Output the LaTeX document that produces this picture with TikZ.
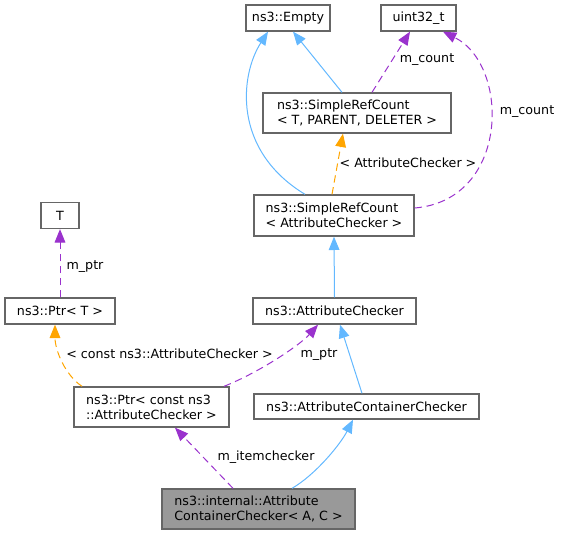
\documentclass[tikz,border=0pt]{standalone}
\usepackage{fontspec}
\setmainfont{DejaVu Sans}
\usetikzlibrary{arrows.meta,calc}
\definecolor{edgeblue}{RGB}{99,184,255}
\definecolor{edgepurple}{RGB}{154,50,205}
\definecolor{edgeorange}{RGB}{255,165,0}
\definecolor{boxgray}{RGB}{102,102,102}
\definecolor{hlgray}{RGB}{153,153,153}
\tikzset{every picture/.style={line width=0.75pt}}
\tikzset{
  cls/.style={draw=boxgray, line width=1pt, fill=white, inner sep=0pt, minimum height=19.5pt, align=left, font=\fontsize{9.5}{11.25}\selectfont},
  hlcls/.style={cls, fill=hlgray},
  lbl/.style={inner sep=0.75pt, font=\fontsize{9.5}{11.25}\selectfont},
  inh/.style={draw=edgeblue, -{Triangle[length=10pt,width=8pt]}},
  mem/.style={draw=edgepurple, dash pattern=on 5.5pt off 3.5pt, -{Triangle[length=10pt,width=8pt]}},
  tpl/.style={draw=edgeorange, dash pattern=on 5.5pt off 3.5pt, -{Triangle[length=10pt,width=8pt]}},
}

\begin{document}
\begin{tikzpicture}[x=0.75pt,y=0.75pt,yscale=-1,xscale=1]
\useasboundingbox (0,0) rectangle (563,535);

%Shape: Rectangle [id:empty]
\node [cls, minimum width=63pt] (empty) at (288,18) {ns3::Empty};
%Shape: Rectangle [id:uint]
\node [cls, minimum width=56.25pt] (uint) at (418.5,18) {uint32\_t};
%Shape: Rectangle [id:srcT]
\node [cls, minimum width=141pt, minimum height=30pt] (srcT) at (357,113) {ns3::SimpleRefCount\\< T, PARENT, DELETER >};
%Shape: Rectangle [id:srcAC]
\node [cls, minimum width=120pt, minimum height=30.75pt] (srcAC) at (334,215.5) {ns3::SimpleRefCount\\< AttributeChecker >};
%Shape: Rectangle [id:T]
\node [cls, minimum width=28.5pt] (T) at (60,215.5) {T};
%Shape: Rectangle [id:ptrT]
\node [cls, minimum width=82.5pt] (ptrT) at (60,311) {ns3::Ptr< T >};
%Shape: Rectangle [id:ptrAC]
\node [cls, minimum width=116.25pt, minimum height=30pt] (ptrAC) at (151.5,407) {ns3::Ptr< const ns3\\::AttributeChecker >};
%Shape: Rectangle [id:ac]
\node [cls, minimum width=122.25pt] (ac) at (334.5,311) {ns3::AttributeChecker};
%Shape: Rectangle [id:acc]
\node [cls, minimum width=168.75pt, minimum height=18.75pt] (acc) at (366.5,406.5) {ns3::AttributeContainerChecker};
%Shape: Rectangle [id:internal]
\node [hlcls, minimum width=144.75pt, minimum height=30pt] (internal) at (258.5,509) {ns3::internal::Attribute\\ContainerChecker< A, C >};

%Straight Lines and Curves
\draw [inh] ($(srcAC.north)+(-29,0)$) .. controls (232,150) and (240,75) .. ($(empty.south)+(-20,0)$);
\draw [inh] ($(srcT.north)+(-15,0)$) -- ($(empty.south)+(5,0)$);
\draw [mem] ($(srcT.north)+(15,0)$) -- ($(uint.south)+(-8.5,0)$);
\draw [mem] ($(srcAC.east)+(0,-7.5)$) .. controls (510,200) and (510,65) .. ($(uint.south)+(24.5,0)$);
\draw [tpl] ($(srcAC.north)+(-2,0)$) -- ($(srcT.south)+(-14,0)$);
\draw [inh] (ac.north) -- (srcAC.south);
\draw [mem] (ptrT.north) -- (T.south);
\draw [tpl] ($(ptrAC.north)+(-69.5,0)$) .. controls (65,375) and (55,350) .. ($(ptrT.south)+(-5,0)$);
\draw [mem] ($(ptrAC.north)+(72.5,0)$) .. controls (260,372) and (300,345) .. ($(ac.south)+(-16.5,0)$);
\draw [inh] ($(acc.north)+(-4.5,0)$) -- ($(ac.south)+(5.5,0)$);
\draw [inh] ($(internal.north)+(33.5,0)$) .. controls (315,475) and (340,445) .. ($(acc.south)+(-13.5,0)$);
\draw [mem] ($(internal.north)+(-25.5,0)$) -- ($(ptrAC.south)+(23.5,0)$);

% Text Node
\node [lbl] (lcountT) at (427,60) {m\_count};
% Text Node
\node [lbl] (lcountAC) at (527,112) {m\_count};
% Text Node
\node [lbl] (ltplAC) at (408,163) {< AttributeChecker >};
% Text Node
\node [lbl] (lptrT) at (85,267) {m\_ptr};
% Text Node
\node [lbl] (ltplPtr) at (169.5,354) {< const ns3::AttributeChecker >};
% Text Node
\node [lbl] (lptrAC) at (319,355) {m\_ptr};
% Text Node
\node [lbl] (litem) at (266,457) {m\_itemchecker};
\end{tikzpicture}
\end{document}
